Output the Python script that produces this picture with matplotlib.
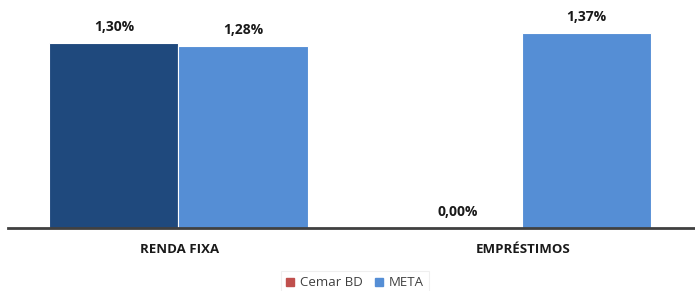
import matplotlib.pyplot as plt
import numpy as np

categories = ['RENDA FIXA', 'EMPRÉSTIMOS']
cemar_bd = [1.30, 0.00]
meta = [1.28, 1.37]

plt.rcParams['font.family'] = ['Open Sans', 'DejaVu Sans']

fig = plt.figure(figsize=(6.95, 2.91), dpi=100)
ax = fig.add_axes([8 / 695, 63 / 291, 687 / 695, 228 / 291])

x = np.arange(len(categories))
w = 0.376
b1 = ax.bar(x - w / 2 - 0.004, cemar_bd, w, color='#1F497D', edgecolor='white', linewidth=0.8)
b2 = ax.bar(x + w / 2 - 0.004, meta, w, color='#558ED5', edgecolor='white', linewidth=0.8)

for bars, vals in ((b1, cemar_bd), (b2, meta)):
    for rect, v in zip(bars, vals):
        ax.annotate(f'{v:.2f}%'.replace('.', ','),
                    (rect.get_x() + rect.get_width() / 2, v),
                    xytext=(0, 6.5), textcoords='offset points',
                    ha='center', va='bottom', fontsize=10, fontweight='bold', color='#1a1a1a')

ax.set_xlim(-0.5, 1.5)
ax.set_ylim(0, 1.605)
ax.set_xticks(x)
ax.set_xticklabels(categories, fontsize=9.5, fontweight='bold', color='#1a1a1a')
ax.tick_params(axis='x', length=0, pad=11)
ax.set_yticks([])
for s in ('top', 'right', 'left'):
    ax.spines[s].set_visible(False)
ax.spines['bottom'].set_color('#404040')
ax.spines['bottom'].set_linewidth(2)

handles = [plt.Rectangle((0, 0), 1, 1, color='#C0504D'),
           plt.Rectangle((0, 0), 1, 1, color='#558ED5')]
leg = fig.legend(handles, ['Cemar BD', 'META'], loc='center', bbox_to_anchor=(355 / 695, 1 - 283 / 291),
                 ncol=2, frameon=True, fontsize=9.5, handlelength=0.6, handleheight=0.6,
                 handletextpad=0.4, columnspacing=1.0, fancybox=False, borderpad=0.4)
leg.get_frame().set_edgecolor('#ececec')
leg.get_frame().set_linewidth(0.8)
for t in leg.get_texts():
    t.set_color('#404040')

plt.savefig('out.png', dpi=100)
